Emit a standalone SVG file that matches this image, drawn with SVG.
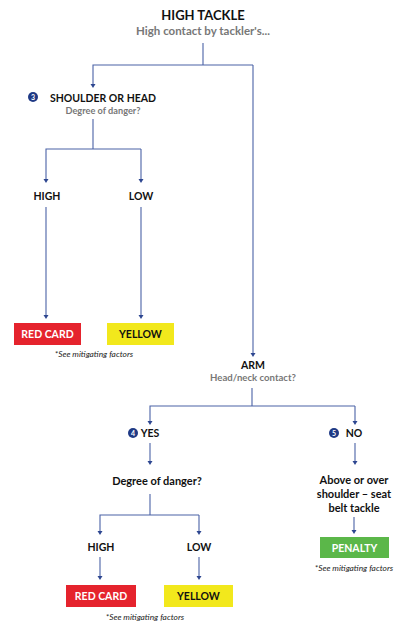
<svg xmlns="http://www.w3.org/2000/svg" width="400" height="630" viewBox="0 0 400 630">
<style>
.t{font-family:Lato,"Open Sans","Liberation Sans",sans-serif;font-weight:bold;text-anchor:middle}
.h{font-size:10.5px;fill:#111}
.s{font-size:9.5px;fill:#777}
.n{font-family:Lato,"Open Sans","Liberation Sans",sans-serif;font-style:italic;font-size:8.4px;fill:#222;text-anchor:middle}
.b{font-size:7px;fill:#fff}
.ln{fill:none;stroke:#4a62a6;stroke-width:1.1}
.ah{fill:#2d4690}
</style>
<g id="connectors">
<path class="ln" d="M203,43 V65"/>
<path class="ln" d="M253,65 H93 V85"/>
<path class="ln" d="M253,65 V354"/>
<path class="ln" d="M93,119 V149"/>
<path class="ln" d="M141,149 H46 V180"/>
<path class="ln" d="M141,149 V180"/>
<path class="ln" d="M46,207 V316"/>
<path class="ln" d="M141,207 V316"/>
<path class="ln" d="M252,388 V406"/>
<path class="ln" d="M355,406 H150 V422"/>
<path class="ln" d="M355,406 V422"/>
<path class="ln" d="M150,443 V462"/>
<path class="ln" d="M355,443 V462"/>
<path class="ln" d="M150,494 V515"/>
<path class="ln" d="M199,515 H100 V532"/>
<path class="ln" d="M199,515 V532"/>
<path class="ln" d="M100,557 V577"/>
<path class="ln" d="M199,557 V577"/>
<path class="ln" d="M354,517 V531"/>
<g class="ah">
<path d="M90.5,84 h5 l-2.5,4 z"/>
<path d="M250.5,353 h5 l-2.5,4 z"/>
<path d="M43.5,179 h5 l-2.5,4 z"/>
<path d="M138.5,179 h5 l-2.5,4 z"/>
<path d="M43.5,315 h5 l-2.5,4 z"/>
<path d="M138.5,315 h5 l-2.5,4 z"/>
<path d="M147.5,421 h5 l-2.5,4 z"/>
<path d="M352.5,421 h5 l-2.5,4 z"/>
<path d="M147.5,461 h5 l-2.5,4 z"/>
<path d="M352.5,461 h5 l-2.5,4 z"/>
<path d="M97.5,531 h5 l-2.5,4 z"/>
<path d="M196.5,531 h5 l-2.5,4 z"/>
<path d="M97.5,576 h5 l-2.5,4 z"/>
<path d="M196.5,576 h5 l-2.5,4 z"/>
<path d="M351.5,530 h5 l-2.5,4 z"/>
</g>
</g>
<g id="high-tackle">
<text class="t" x="203" y="20" style="font-size:13px;fill:#111">HIGH TACKLE</text>
<text class="t s" x="203" y="35" style="font-size:11.5px">High contact by tackler's...</text>
</g>
<g id="shoulder-head">
<circle cx="33" cy="97" r="5" fill="#1f3a85"/>
<text class="t b" x="33" y="99.5">3</text>
<text class="t h" x="103" y="102">SHOULDER OR HEAD</text>
<text class="t s" x="103" y="114" style="font-size:9.2px">Degree of danger?</text>
</g>
<g id="high1"><text class="t h" x="47" y="200">HIGH</text></g>
<g id="low1"><text class="t h" x="141" y="200">LOW</text></g>
<g id="red1">
<rect x="14" y="323" width="67" height="22" fill="#e5232d"/>
<text class="t" x="47.5" y="338" style="font-size:10.5px;fill:#fff">RED CARD</text>
</g>
<g id="yellow1">
<rect x="107" y="323" width="67" height="22" fill="#f2e81c"/>
<text class="t" x="140.5" y="338" style="font-size:10.5px;fill:#111">YELLOW</text>
</g>
<text class="n" x="94" y="357">*See mitigating factors</text>
<g id="arm">
<text class="t h" x="253" y="369">ARM</text>
<text class="t s" x="253" y="381" style="font-size:9.6px">Head/neck contact?</text>
</g>
<g id="yes">
<circle cx="133" cy="433" r="5" fill="#1f3a85"/>
<text class="t b" x="133" y="435.5">4</text>
<text class="t h" x="150" y="437">YES</text>
</g>
<g id="no">
<circle cx="334" cy="433" r="5" fill="#1f3a85"/>
<text class="t b" x="334" y="435.5">5</text>
<text class="t h" x="354" y="437">NO</text>
</g>
<g id="degree2"><text class="t" x="157" y="485" style="font-size:11px;fill:#111">Degree of danger?</text></g>
<g id="high2"><text class="t h" x="101" y="551">HIGH</text></g>
<g id="low2"><text class="t h" x="199" y="551">LOW</text></g>
<g id="red2">
<rect x="66" y="585" width="70" height="22" fill="#e5232d"/>
<text class="t" x="101" y="600" style="font-size:10.5px;fill:#fff">RED CARD</text>
</g>
<g id="yellow2">
<rect x="164" y="585" width="69" height="22" fill="#f2e81c"/>
<text class="t" x="198.5" y="600" style="font-size:10.5px;fill:#111">YELLOW</text>
</g>
<text class="n" x="145" y="620">*See mitigating factors</text>
<g id="seatbelt">
<text class="t" x="354" y="484" style="font-size:11px;fill:#111">Above or over</text>
<text class="t" x="354" y="498" style="font-size:11px;fill:#111">shoulder – seat</text>
<text class="t" x="354" y="512" style="font-size:11px;fill:#111">belt tackle</text>
</g>
<g id="penalty">
<rect x="320" y="537" width="69" height="21" fill="#5bb749"/>
<text class="t" x="354.5" y="551.5" style="font-size:10.5px;fill:#fff">PENALTY</text>
</g>
<text class="n" x="354" y="571">*See mitigating factors</text>
</svg>
